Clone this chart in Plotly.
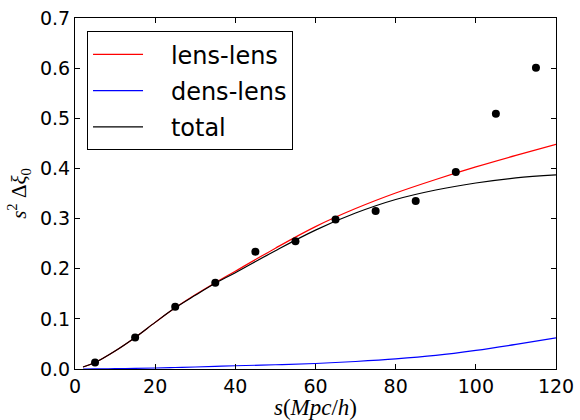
import plotly.graph_objects as go

# data points
s_pts = [5, 15, 25, 35, 45, 55, 65, 75, 85, 95, 105, 115]
xi_pts = [0.013, 0.063, 0.124, 0.172, 0.234, 0.255, 0.298, 0.315, 0.335, 0.393, 0.509, 0.601]

# model curves
s_curve = [2, 5, 10, 15, 20, 25, 30, 35, 40, 50, 60, 70, 80, 90, 100, 110, 120]
lens_lens = [0.004, 0.013, 0.036, 0.063, 0.093, 0.122, 0.148, 0.172, 0.195, 0.241, 0.284, 0.320,
             0.351, 0.378, 0.403, 0.426, 0.448]
dens_lens = [0.0, 0.0002, 0.0006, 0.0012, 0.002, 0.003, 0.004, 0.0052, 0.0065, 0.0085, 0.011, 0.015,
             0.020, 0.027, 0.037, 0.049, 0.062]
total = [0.004, 0.013, 0.036, 0.063, 0.093, 0.122, 0.147, 0.171, 0.192, 0.236, 0.277, 0.311,
         0.338, 0.357, 0.371, 0.381, 0.387]

x_ticks = [0, 20, 40, 60, 80, 100, 120]
y_ticks = [0.0, 0.1, 0.2, 0.3, 0.4, 0.5, 0.6, 0.7]

NB = "\u00a0"

fig = go.Figure()
fig.add_trace(go.Scatter(x=s_curve, y=lens_lens, mode="lines", name=NB * 3 + "lens-lens",
                         line=dict(color="#ff0000", width=1.2, shape="spline"), legendgroup="a"))
fig.add_trace(go.Scatter(x=s_curve, y=dens_lens, mode="lines", name=NB * 3 + "dens-lens",
                         line=dict(color="#0000ff", width=1.2, shape="spline"), legendgroup="b"))
fig.add_trace(go.Scatter(x=s_curve, y=total, mode="lines", name=NB * 3 + "total",
                         line=dict(color="#000000", width=1.2, shape="spline"), legendgroup="c"))
fig.add_trace(go.Scatter(x=s_pts, y=xi_pts, mode="markers", showlegend=False,
                         marker=dict(color="black", size=8)))

axis_common = dict(showgrid=False, zeroline=False, showline=True, linecolor="black", linewidth=1,
                   mirror="ticks", ticks="inside", ticklen=5, tickcolor="black", automargin=False,
                   tickfont=dict(family="DejaVu Sans", size=19, color="black"))

fig.update_layout(
    width=580, height=420,
    margin=dict(l=75, r=24, t=18, b=51),
    paper_bgcolor="white", plot_bgcolor="white",
    xaxis=dict(range=[0, 120], tickvals=x_ticks, ticktext=[str(v) for v in x_ticks],
               title=dict(text="<i>s</i>(<i>Mpc</i>/<i>h</i>)", standoff=2,
                          font=dict(family="Liberation Serif", size=23, color="black")),
               **axis_common),
    yaxis=dict(range=[0, 0.7], tickvals=y_ticks, ticktext=[f"{v:.1f}" for v in y_ticks],
               title=dict(text="<i>s</i><sup>2</sup> Δ<i>ξ</i><sub>0</sub>", standoff=7,
                          font=dict(family="Liberation Serif", size=21, color="black")),
               **axis_common),
    legend=dict(x=0.025, y=0.962, xanchor="left", yanchor="top",
                bordercolor="black", borderwidth=1, bgcolor="white",
                font=dict(family="DejaVu Sans", size=24, color="black"),
                tracegroupgap=2, itemwidth=50),
    showlegend=True,
)

fig.write_html("out.html", config={"displayModeBar": False},
               post_script="document.body.style.margin='0';")
